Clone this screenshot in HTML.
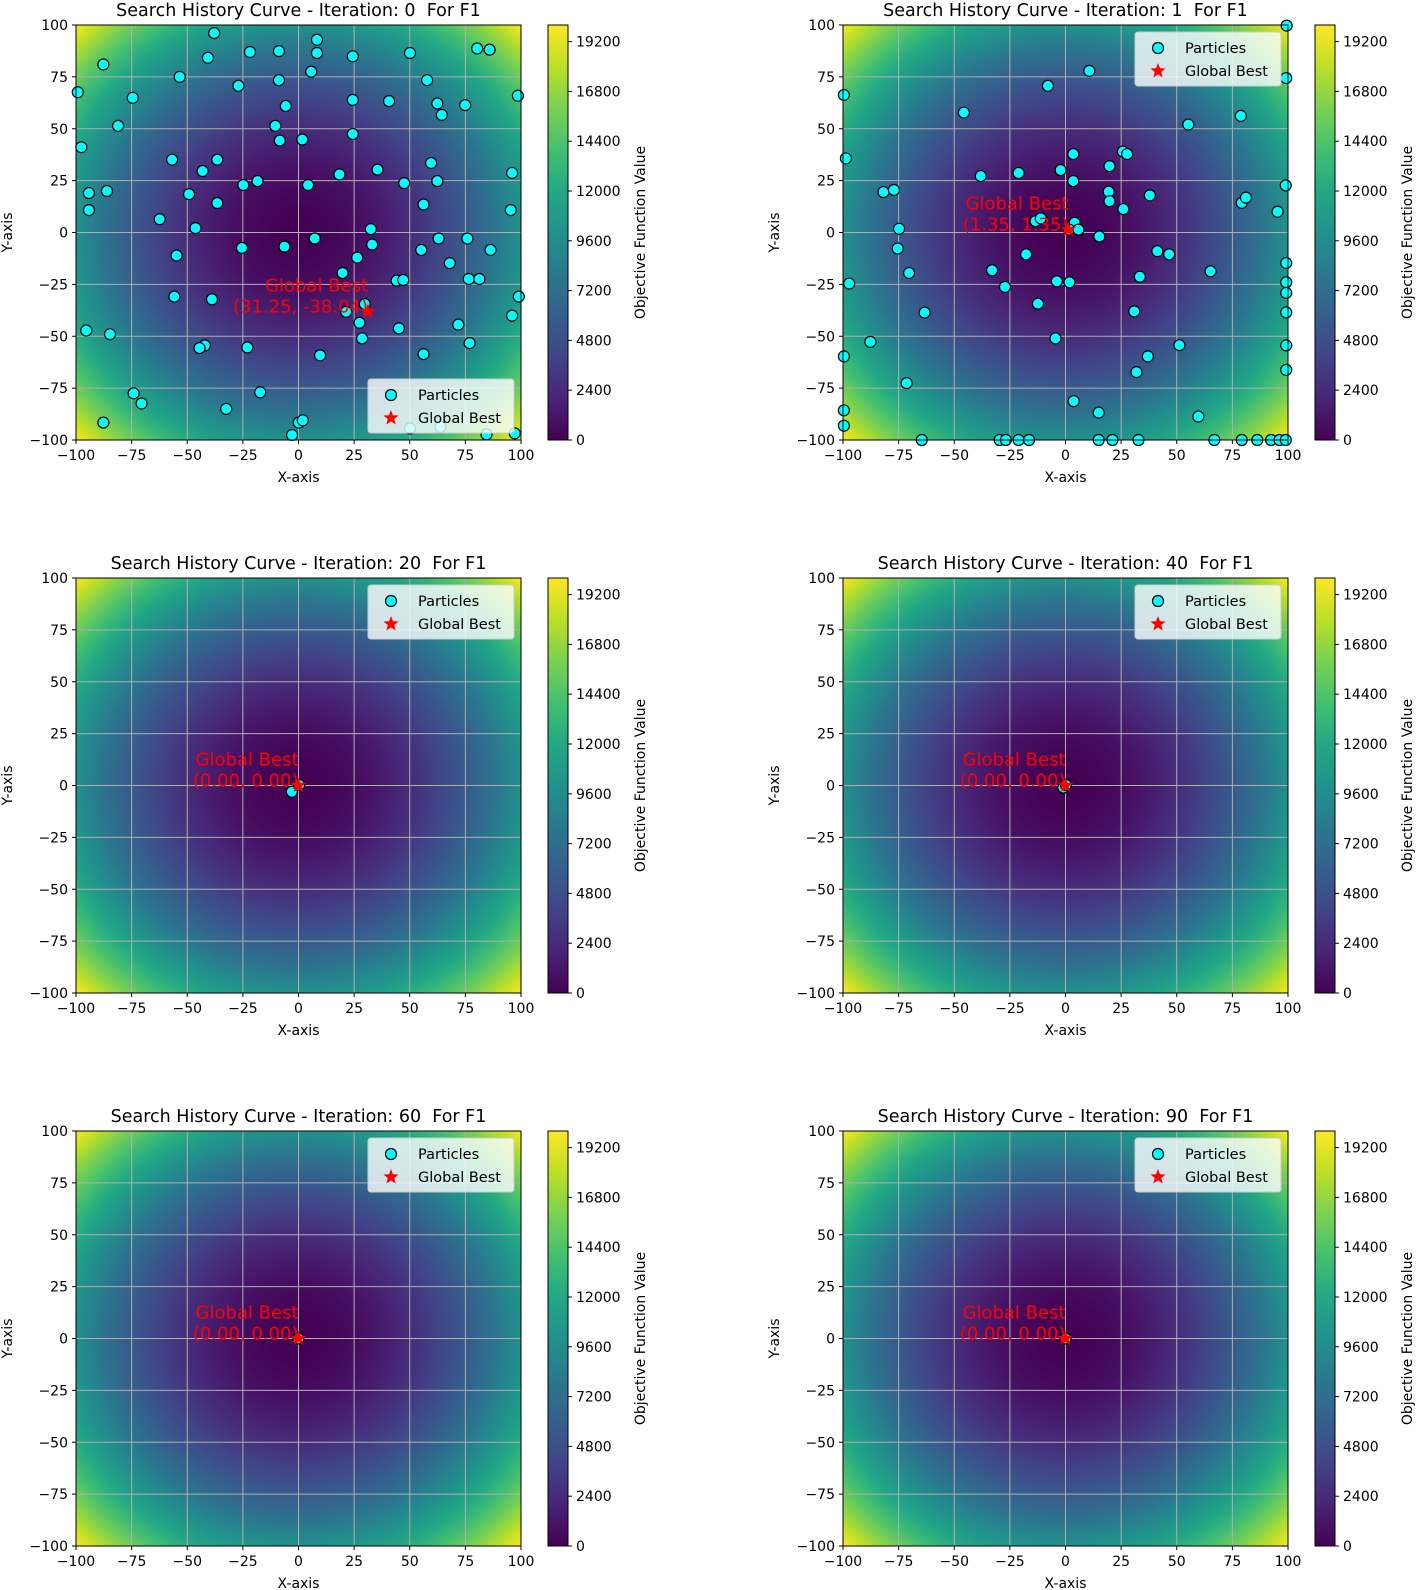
<!DOCTYPE html>
<html><head><meta charset="utf-8"><style>
html,body{margin:0;padding:0;background:#fff;}
svg{display:block;font-family:"DejaVu Sans","Liberation Sans",sans-serif;}
</style></head><body>
<svg id="fig" width="1418" height="1590" viewBox="0 0 1418 1590" xmlns="http://www.w3.org/2000/svg"></svg>
<script>
// ---- data ----
const iterations = [0, 1, 20, 40, 60, 90];
const gbestX = [31.25, 1.35, 0.00, 0.00, 0.00, 0.00];
const gbestY = [-38.04, 1.35, 0.00, 0.00, 0.00, 0.00];
const it0X = [-37.9,-87.7,-53.4,-40.7,-21.8,-8.8,8.3,8.3,24.4,50.1,80.3,85.9,-99.2,-74.5,-27,-8.8,5.7,57.8,98.6,24.4,40.7,62.4,74.9,64.4,-5.7,-81.1,-10.4,-8.4,1.7,24.4,-97.6,-56.8,-36.5,-43.1,35.5,59.6,96,18.4,-24.8,-18.4,4.3,47.5,62.4,-94.2,-86.1,-49.2,-36.5,56.2,95.4,-94.2,-62.4,-46.3,32.5,7.3,63,75.9,-6.3,-25.4,33.1,55.2,86.3,-54.8,26.4,68,19.8,44.1,47.1,76.5,81.3,-55.8,-38.9,99,21.4,29.8,27.4,96,-95.4,-84.7,28.6,45.1,71.8,76.9,-42.1,-44.5,-23,9.7,56.2,-74.1,-70.5,-17.2,-32.5,-87.7,0.1,1.9,-2.9,50.1,63.8,84.5,97.2];
const it0Y = [96.1,81,75,84.2,87,87.4,92.9,86.5,84.9,86.5,88.7,88.1,67.6,64.9,70.7,73.4,77.5,73.4,65.9,63.9,63.3,62.2,61.4,56.7,61,51.4,51.4,44.3,44.8,47.5,41.1,35.1,35.1,29.6,30.3,33.5,28.7,28,22.9,24.8,22.9,23.8,24.8,19,20,18.5,14.2,13.5,10.8,10.8,6.4,2.1,1.6,-2.9,-2.9,-2.9,-6.8,-7.4,-5.8,-8.4,-8.4,-11.1,-12.1,-14.8,-19.5,-23.2,-22.9,-22.4,-22.4,-30.9,-32.2,-30.9,-38.2,-34.5,-43.5,-40.1,-47.2,-49,-51,-46.2,-44.4,-53.3,-54.4,-55.7,-55.4,-59.2,-58.6,-77.5,-82.4,-77,-85,-91.6,-91.6,-90.5,-97.6,-94.4,-93.7,-97.3,-96.8];
const it1X = [99.4,10.7,-7.9,-99.6,99.2,-45.7,78.8,55.2,-98.7,3.5,25.8,27.7,19.8,-38.1,-21.1,-2.2,3.5,-81.8,-77.1,19.4,19.8,37.9,99,79.2,81.1,26,95.3,-74.8,-13.5,-11.1,4.1,1.6,5.8,15.2,-75.4,-17.7,41.3,46.6,99.2,-70.3,-33,65.2,-97.2,-27.2,-3.9,1.8,33.4,99.2,99.2,-12.4,-63.3,30.9,99.2,-87.7,-4.5,51.2,99.2,-99.6,37,31.9,99.2,-71.4,-99.6,-99.6,3.7,14.9,59.7,-64.6,-29.6,-26.8,-21.1,-16.4,14.9,21.1,32.8,66.9,79.2,86.2,92.4,96.2,99.0];
const it1Y = [99.7,77.9,70.7,66.3,74.4,57.8,56.2,52,35.7,37.8,39,37.8,32,27.2,28.7,30.1,24.8,19.5,20.5,19.7,15.1,17.9,22.7,14.3,16.8,11.3,10,1.8,5.5,6.8,4.7,1.4,1.4,-1.9,-7.7,-10.5,-9,-10.5,-14.7,-19.5,-18.2,-18.7,-24.6,-26.2,-23.5,-24,-21.3,-24,-29.1,-34.3,-38.6,-38,-38.5,-52.7,-51,-54.3,-54.4,-59.7,-59.7,-67.3,-66.2,-72.6,-85.7,-93.1,-81.3,-86.8,-88.7,-100,-100,-100,-100,-100,-100,-100,-100,-100,-100,-100,-100,-100,-100];
const it20X = [-3, 0.3];
const it20Y = [-3, 0.3];
const it40X = [-1, 0.2];
const it40Y = [-1, 0.3];
const it60X = [0];
const it60Y = [0];
const it90X = [0];
const it90Y = [0];
const axisTicks = [-100,-75,-50,-25,0,25,50,75,100];
const cbarTicks = [0,2400,4800,7200,9600,12000,14400,16800,19200];
const cbarMax = 20000;

const partX = [it0X, it1X, it20X, it40X, it60X, it90X];
const partY = [it0Y, it1Y, it20Y, it40Y, it60Y, it90Y];

// ---- layout ----
const NS = "http://www.w3.org/2000/svg";
const svg = document.getElementById('fig');
const colX = [76, 843], rowY = [25, 578, 1131];
const PW = 445, PH = 415;
const vir = ["#440154","#482475","#414487","#355f8d","#2a788e","#21918c","#22a884","#44bf70","#7ad151","#bddf26","#fde725"];
function hex(c){return [1,3,5].map(i=>parseInt(c.substr(i,2),16));}
function viridis(t){t=Math.max(0,Math.min(1,t));const p=t*10,i=Math.min(9,Math.floor(p)),f=p-i;const a=hex(vir[i]),b=hex(vir[i+1]);return 'rgb('+a.map((v,k)=>Math.round(v+(b[k]-v)*f)).join(',')+')';}
function el(tag, attrs, parent){const e=document.createElementNS(NS,tag);for(const k in attrs)e.setAttribute(k,attrs[k]);(parent||svg).appendChild(e);return e;}
function txt(s, attrs, parent){const e=el('text',attrs,parent);e.textContent=s;return e;}

const defs = el('defs',{});
const rg = el('radialGradient',{id:'sphere',gradientUnits:'userSpaceOnUse',cx:0,cy:0,r:Math.sqrt(20000)},defs);
for(let i=0;i<=60;i++){const f=i/60;el('stop',{offset:f,'stop-color':viridis(f*f*20000/cbarMax)},rg);}
const lg = el('linearGradient',{id:'cbar',x1:0,y1:1,x2:0,y2:0},defs);
for(let i=0;i<=20;i++){el('stop',{offset:i/20,'stop-color':viridis(i/20)},lg);}

function starPath(cx,cy,R){const r=R*0.42;let d='';for(let i=0;i<10;i++){const a=-Math.PI/2+i*Math.PI/5;const rr=i%2?r:R;d+=(i?'L':'M')+(cx+rr*Math.cos(a)).toFixed(2)+','+(cy+rr*Math.sin(a)).toFixed(2);}return d+'Z';}

iterations.forEach((itv, idx)=>{
  const ox = colX[idx%2], oy = rowY[Math.floor(idx/2)];
  const sx = v => ox + (v+100)/200*PW;
  const sy = v => oy + PH - (v+100)/200*PH;
  const g = el('g',{});
  
  
  const hg = el('g',{transform:`translate(${ox+PW/2},${oy+PH/2}) scale(${PW/200},${-PH/200})`},g);
  const hr = el('rect',{x:-100,y:-100,width:200,height:200,fill:'url(#sphere)'},hg);
  
  
  axisTicks.forEach(t=>{
    el('line',{x1:sx(t),x2:sx(t),y1:oy,y2:oy+PH,stroke:'#b0b0b0','stroke-width':1},g);
    el('line',{x1:ox,x2:ox+PW,y1:sy(t),y2:sy(t),stroke:'#b0b0b0','stroke-width':1},g);
  });
  const xs = partX[idx], ys = partY[idx];
  xs.forEach((x,i)=>{
    const c = el('circle',{cx:sx(x),cy:sy(ys[i]),r:5.5,fill:'#00ffff',stroke:'#000','stroke-width':1.2},g);
    
    
  });
  const gx = sx(gbestX[idx]), gy = sy(gbestY[idx]);
  const st = el('path',{d:starPath(gx,gy,8),fill:'#ff0000'},g);
  
  
  const an = el('g',{fill:'#ff0000','font-size':'18px','text-anchor':'end'},g);
  
  
  txt('Global Best',{x:gx,y:gy-20},an);
  txt('('+gbestX[idx].toFixed(2)+', '+gbestY[idx].toFixed(2)+')',{x:gx,y:gy+1},an);
  el('rect',{x:ox,y:oy,width:PW,height:PH,fill:'none',stroke:'#000','stroke-width':1},g);
  axisTicks.forEach(t=>{
    el('line',{x1:sx(t),x2:sx(t),y1:oy+PH,y2:oy+PH+4,stroke:'#000'},g);
    const xt = txt(String(t).replace('-','\u2212'),{x:sx(t),y:oy+PH+20,'font-size':'14px','text-anchor':'middle'},g);
    
    
    el('line',{x1:ox-4,x2:ox,y1:sy(t),y2:sy(t),stroke:'#000'},g);
    const yt = txt(String(t).replace('-','\u2212'),{x:ox-8,y:sy(t)+5,'font-size':'14px','text-anchor':'end'},g);
    
    
  });
  const xl = txt('X-axis',{x:ox+PW/2,y:oy+PH+42,'font-size':'14px','text-anchor':'middle'},g);
  
  
  const yl = txt('Y-axis',{x:0,y:0,'font-size':'14px','text-anchor':'middle',transform:`translate(${ox-64},${oy+PH/2}) rotate(-90)`},g);
  
  
  const tt = txt('Search History Curve - Iteration: '+itv+' \u00a0For F1',{x:ox+PW/2,y:oy-9,'font-size':'17.5px','text-anchor':'middle'},g);
  
  
  const cx0 = ox+472, cw=20;
  const cb = el('rect',{x:cx0,y:oy,width:cw,height:PH,fill:'url(#cbar)',stroke:'#000','stroke-width':1},g);
  
  
  cbarTicks.forEach(t=>{
    const yy = oy+PH - t/cbarMax*PH;
    el('line',{x1:cx0+cw,x2:cx0+cw+4,y1:yy,y2:yy,stroke:'#000'},g);
    const ct = txt(String(t),{x:cx0+cw+8,y:yy+5,'font-size':'14px'},g);
    
    
  });
  const cl = txt('Objective Function Value',{x:0,y:0,'font-size':'14px','text-anchor':'middle',transform:`translate(${cx0+97},${oy+PH/2}) rotate(-90)`},g);
  
  
  const lx = ox+PW-153, ly = idx===0 ? oy+PH-61 : oy+7;
  const lgG = el('g',{},g);
  
  
  el('rect',{x:lx,y:ly,width:146,height:54,rx:3,fill:'#ffffff','fill-opacity':0.8,stroke:'#cccccc'},lgG);
  el('circle',{cx:lx+23,cy:ly+16,r:5.5,fill:'#00ffff',stroke:'#000','stroke-width':1.2},lgG);
  txt('Particles',{x:lx+50,y:ly+21,'font-size':'14.5px'},lgG);
  el('path',{d:starPath(lx+23,ly+39,8),fill:'#ff0000'},lgG);
  txt('Global Best',{x:lx+50,y:ly+44,'font-size':'14.5px'},lgG);
});
</script>
</body></html>
